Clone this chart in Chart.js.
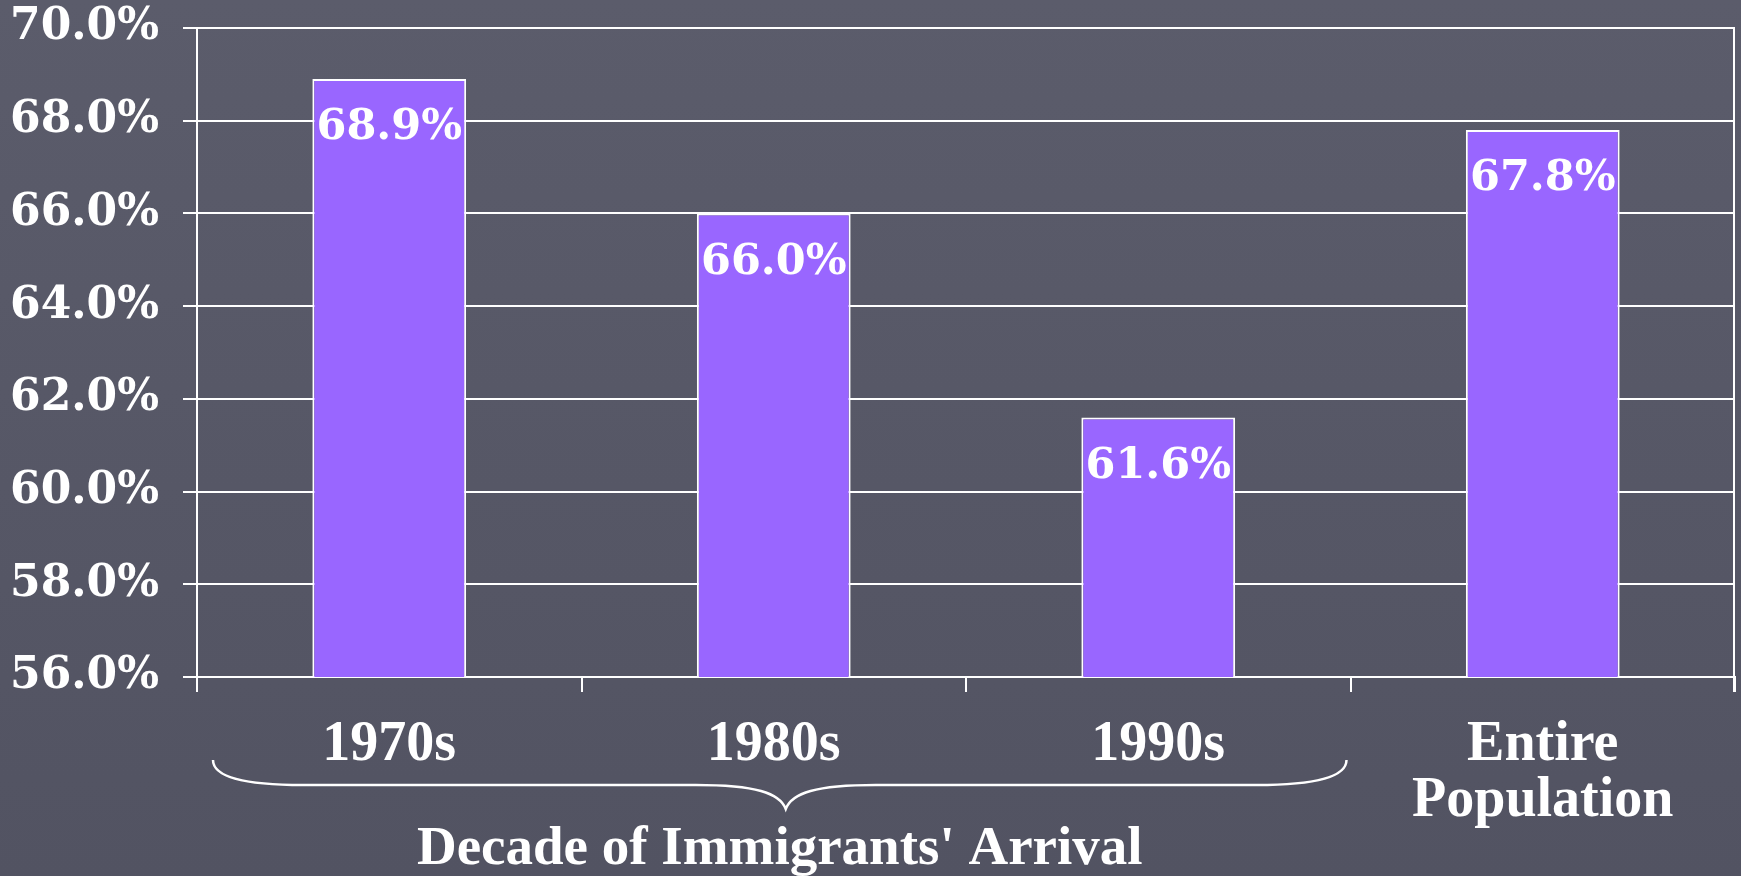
<!DOCTYPE html>
<html>
<head>
<meta charset="utf-8">
<script src="https://cdn.jsdelivr.net/npm/chart.js@4.4.0/dist/chart.umd.min.js"></script>
<style>
  html, body { margin: 0; padding: 0; }
  body { width: 1741px; height: 876px; overflow: hidden; background: linear-gradient(#5b5c6b, #525362); }
  #wrap { width: 1741px; height: 876px; position: relative; }
</style>
</head>
<body>
<div id="wrap"><canvas id="arrivalChart"></canvas></div>
<script>
// values
const categories = ["1970s", "1980s", "1990s", ["Entire", "Population"]];
const rates = [68.9, 66.0, 61.6, 67.8];
const yTicks = [56, 58, 60, 62, 64, 66, 68, 70];
const groupTitle = "Decade of Immigrants' Arrival";
const groupedCount = 3; // first three bars sit under the brace

const NUM_FONT = "'DejaVu Serif', Georgia, serif";
const TXT_FONT = "'Liberation Serif', 'Times New Roman', serif";

// percent labels inside the top of each bar
const valueLabels = {
  id: "valueLabels",
  afterDatasetsDraw(chart) {
    const ctx = chart.ctx;
    const meta = chart.getDatasetMeta(0);
    ctx.save();
    ctx.fillStyle = "#ffffff";
    ctx.font = "bold 43px " + NUM_FONT;
    ctx.textAlign = "center";
    ctx.textBaseline = "middle";
    meta.data.forEach((bar, i) => {
      ctx.fillText(rates[i].toFixed(1) + "%", bar.x, bar.y + 49);
    });
    ctx.restore();
  }
};

// right frame line, brace and group title
const frameAndBrace = {
  id: "frameAndBrace",
  afterDraw(chart) {
    const ctx = chart.ctx;
    const area = chart.chartArea;
    const xs = chart.scales.x;
    ctx.save();
    ctx.strokeStyle = "#ffffff";
    ctx.lineWidth = 2;
    ctx.beginPath();
    ctx.moveTo(area.right - 1, area.top);
    ctx.lineTo(area.right - 1, area.bottom + 15);
    ctx.stroke();

    const half = (xs.getPixelForValue(1) - xs.getPixelForValue(0)) / 2;
    const left = xs.getPixelForValue(0) - half + 16;
    const right = xs.getPixelForValue(groupedCount - 1) + half - 4;
    const mid = (left + right) / 2 + 6;
    const yEnd = 760, yLine = 785, yTip = 809;
    ctx.lineWidth = 2.5;
    ctx.beginPath();
    ctx.moveTo(left, yEnd);
    ctx.bezierCurveTo(left, yLine - 6, left + 40, yLine, left + 90, yLine);
    ctx.lineTo(mid - 90, yLine);
    ctx.bezierCurveTo(mid - 30, yLine, mid - 6, yLine + 8, mid, yTip);
    ctx.bezierCurveTo(mid + 6, yLine + 8, mid + 30, yLine, mid + 90, yLine);
    ctx.lineTo(right - 90, yLine);
    ctx.bezierCurveTo(right - 40, yLine, right, yLine - 6, right, yEnd);
    ctx.stroke();

    ctx.fillStyle = "#ffffff";
    ctx.font = "bold 55px " + TXT_FONT;
    ctx.textAlign = "center";
    ctx.textBaseline = "middle";
    ctx.fillText(groupTitle, (left + right) / 2, 850);
    ctx.restore();
  }
};

new Chart(document.getElementById("arrivalChart"), {
  type: "bar",
  data: {
    labels: categories,
    datasets: [{
      data: rates,
      backgroundColor: "#9966ff",
      borderColor: "#ffffff",
      borderWidth: 2,
      borderSkipped: "bottom",
      barPercentage: 0.4,
      categoryPercentage: 1.0
    }]
  },
  options: {
    responsive: true,
    maintainAspectRatio: false,
    animation: false,
    layout: { padding: { top: 28, right: 6, bottom: 0, left: 0 } },
    plugins: { legend: { display: false }, tooltip: { enabled: false } },
    scales: {
      x: {
        grid: { display: true, drawOnChartArea: false, drawTicks: true, tickLength: 15, color: "#ffffff", lineWidth: 2, offset: true },
        border: { display: true, color: "#ffffff", width: 2 },
        ticks: {
          color: "#ffffff",
          padding: 26,
          maxRotation: 0,
          autoSkip: false,
          font: { family: TXT_FONT, size: 56, weight: "bold", lineHeight: 1.0 }
        },
        afterFit(scale) { scale.height = 199; }
      },
      y: {
        min: yTicks[0],
        max: yTicks[yTicks.length - 1],
        grid: { color: "#ffffff", lineWidth: 2, tickLength: 14 },
        border: { display: true, color: "#ffffff", width: 2 },
        ticks: {
          stepSize: yTicks[1] - yTicks[0],
          color: "#ffffff",
          padding: 24,
          font: { family: NUM_FONT, size: 44, weight: "bold" },
          callback: (v) => v.toFixed(1) + "%"
        },
        afterFit(scale) {
          scale.width = 197;
          scale.paddingTop = 0;
          scale.paddingBottom = 0;
        }
      }
    }
  },
  plugins: [valueLabels, frameAndBrace]
});
</script>
</body>
</html>
